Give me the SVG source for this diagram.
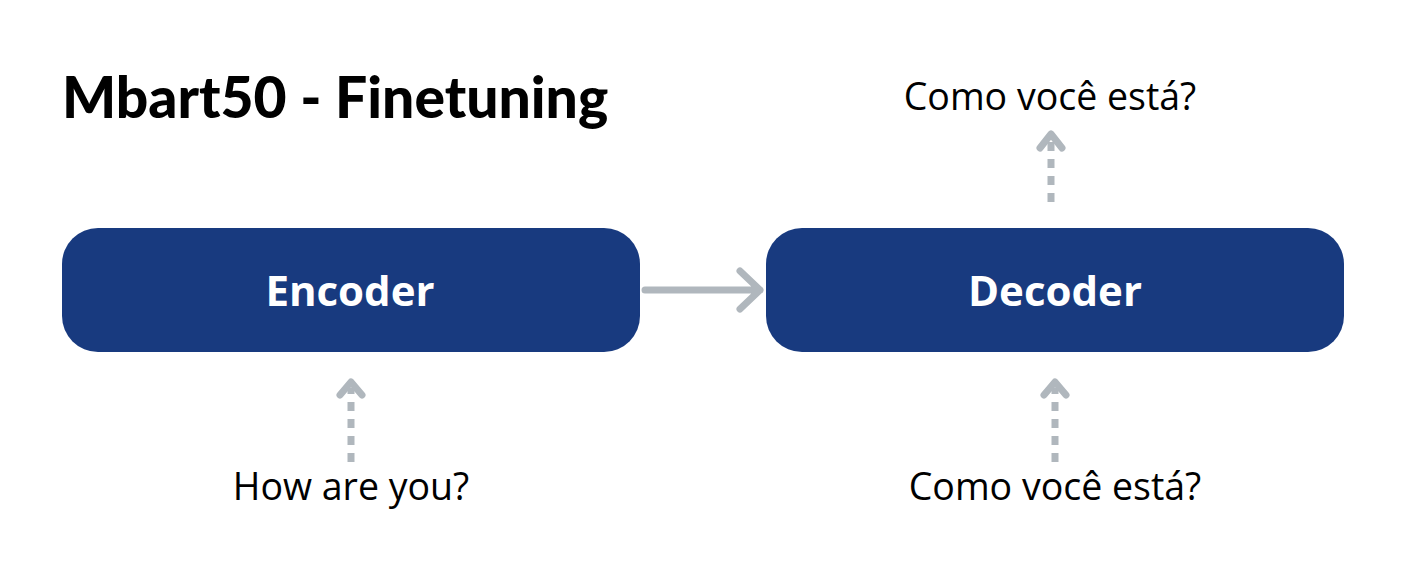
<svg xmlns="http://www.w3.org/2000/svg" width="1418" height="580" viewBox="0 0 1418 580">
<style>
.box{fill:#183a7f}
.lbl{font-family:"Open Sans","Noto Sans",sans-serif;font-weight:bold;font-size:42px;fill:#ffffff;text-anchor:middle}
.txt{font-family:"Open Sans","Noto Sans",sans-serif;font-size:37.5px;fill:#000000;text-anchor:middle}
.title{font-family:"Lato","Liberation Sans",sans-serif;font-weight:900;font-size:57px;fill:#000000}
.line{stroke:#b0b7bd;stroke-width:7;fill:none;stroke-linecap:round;stroke-linejoin:round}
.dash{stroke:#b0b7bd;stroke-width:7;fill:none;stroke-dasharray:9 8}
</style>
<rect width="1418" height="580" fill="#ffffff"/>
<text class="title" x="62" y="118">Mbart50 - Finetuning</text>
<g id="encoder">
<rect class="box" x="62" y="228" width="578" height="124" rx="36"/>
<text class="lbl" x="350" y="306">Encoder</text>
</g>
<g id="decoder">
<rect class="box" x="766" y="228" width="578" height="124" rx="36"/>
<text class="lbl" x="1055" y="306">Decoder</text>
</g>
<g id="input-en">
<text class="txt" x="351" y="500">How are you?</text>
</g>
<g id="input-pt">
<text class="txt" x="1055" y="500">Como você está?</text>
</g>
<g id="output-pt">
<text class="txt" x="1050" y="110">Como você está?</text>
</g>
<g id="connectors">
<path class="line" d="M645 290 H760 M740 271 L760 290 L740 309"/>
<path class="dash" d="M351 462 V388"/>
<path class="line" d="M340 395 L351 382 L362 395"/>
<path class="dash" d="M1055 462 V388"/>
<path class="line" d="M1044 395 L1055 382 L1066 395"/>
<path class="dash" d="M1051 202 V140"/>
<path class="line" d="M1040 148 L1051 134 L1062 148"/>
</g>
</svg>
